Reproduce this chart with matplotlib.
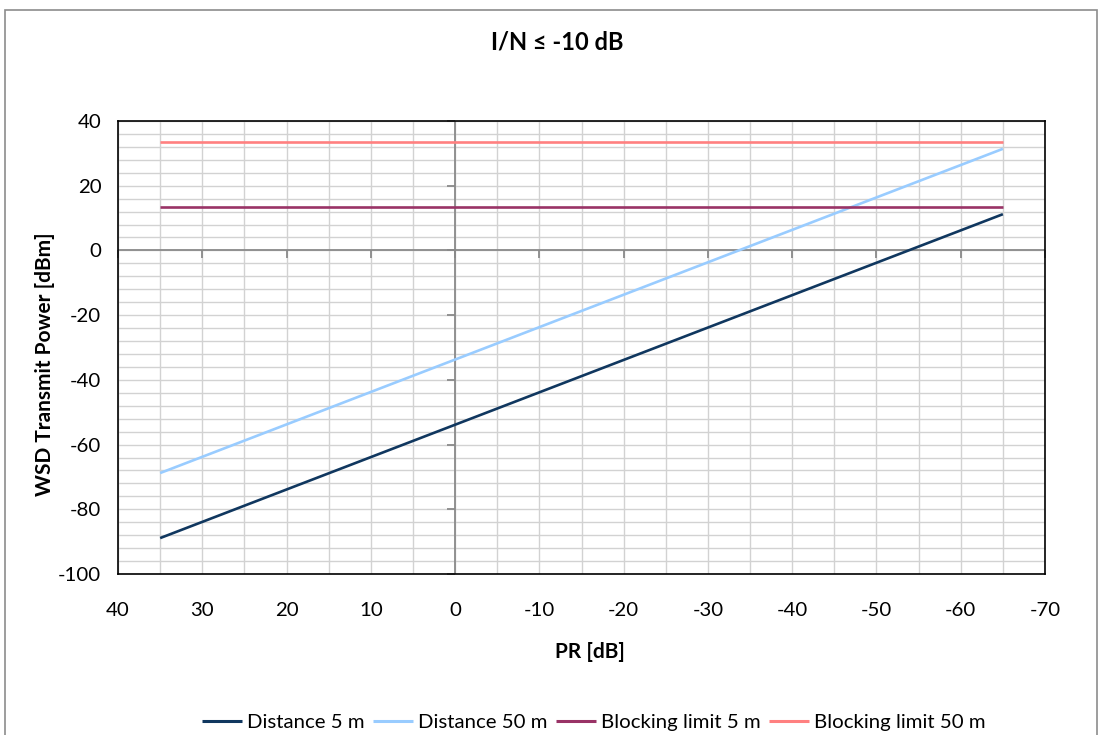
import matplotlib
matplotlib.use("Agg")
import matplotlib.pyplot as plt
from matplotlib.patches import Rectangle

plt.rcParams['font.family'] = ['Lato', 'DejaVu Sans']
plt.rcParams['axes.unicode_minus'] = False

# Data
pr = [35, -65]
dist_5m = [-88.9, 11.2]
dist_50m = [-68.8, 31.4]
block_5m = [13.3, 13.3]
block_50m = [33.4, 33.4]

series = [
    ("Distance 5 m", dist_5m, "#10375F"),
    ("Distance 50 m", dist_50m, "#99CCFF"),
    ("Blocking limit 5 m", block_5m, "#993366"),
    ("Blocking limit 50 m", block_50m, "#FF8080"),
]

x_ticks = [40, 30, 20, 10, 0, -10, -20, -30, -40, -50, -60, -70]
y_ticks = [40, 20, 0, -20, -40, -60, -80, -100]

fig = plt.figure(figsize=(11.04, 7.35), dpi=100)
fig.patches.append(Rectangle((5/1104, -0.05), 1092/1104, 1.05 - 10/735,
                             transform=fig.transFigure, fill=False,
                             edgecolor="#8C8C8C", lw=1.2))
ax = fig.add_axes([118/1104, 1 - 574/735, (1045-118)/1104, (574-121)/735])

ax.set_xlim(40, -70)
ax.set_ylim(-100, 40)
ax.set_xticks(x_ticks)
ax.set_yticks(y_ticks)
ax.set_xticks(range(35, -70, -5), minor=True)
ax.set_yticks(range(-96, 40, 4), minor=True)
ax.grid(which='both', color="#D2D2D2", lw=1.0)
ax.set_axisbelow(True)
ax.tick_params(which='both', length=0)
ax.tick_params(axis='x', labelsize=14.7, pad=20)
ax.tick_params(axis='y', labelsize=14.7, pad=12)
for s in ax.spines.values():
    s.set_color("black")
    s.set_linewidth(1.2)

# zero axes
ax.axhline(0, color="#8A8A8A", lw=1.3, zorder=1.5)
ax.axvline(0, color="#8A8A8A", lw=1.3, zorder=1.5)
ax.plot(x_ticks, [0]*len(x_ticks), linestyle='none', marker=3, markersize=6,
        markeredgewidth=1.3, color="#8A8A8A", clip_on=False, zorder=1.5)
ax.plot([0]*len(y_ticks), y_ticks, linestyle='none', marker=0, markersize=6,
        markeredgewidth=1.3, color="#8A8A8A", clip_on=False, zorder=1.5)

for name, vals, col in series:
    ax.plot(pr, vals, color=col, lw=1.9, label=name, solid_capstyle='butt')

fig.text(557/1104, 1 - 42/735, "I/N ≤ -10 dB", ha='center', va='center',
         fontsize=17, fontweight='bold')
fig.text(45/1104, 1 - 364/735, "WSD Transmit Power [dBm]", ha='center', va='center',
         rotation=90, fontsize=15, fontweight='bold')
fig.text(590/1104, 1 - 652/735, "PR [dB]", ha='center', va='center',
         fontsize=15, fontweight='bold')

leg = fig.legend(loc='center', bbox_to_anchor=(594/1104, 1 - 722/735), ncol=4,
                 frameon=False, fontsize=14.7, handlelength=1.95, handletextpad=0.25,
                 columnspacing=0.42)
for line in leg.get_lines():
    line.set_linewidth(2.2)

fig.savefig("out.png", dpi=100)
